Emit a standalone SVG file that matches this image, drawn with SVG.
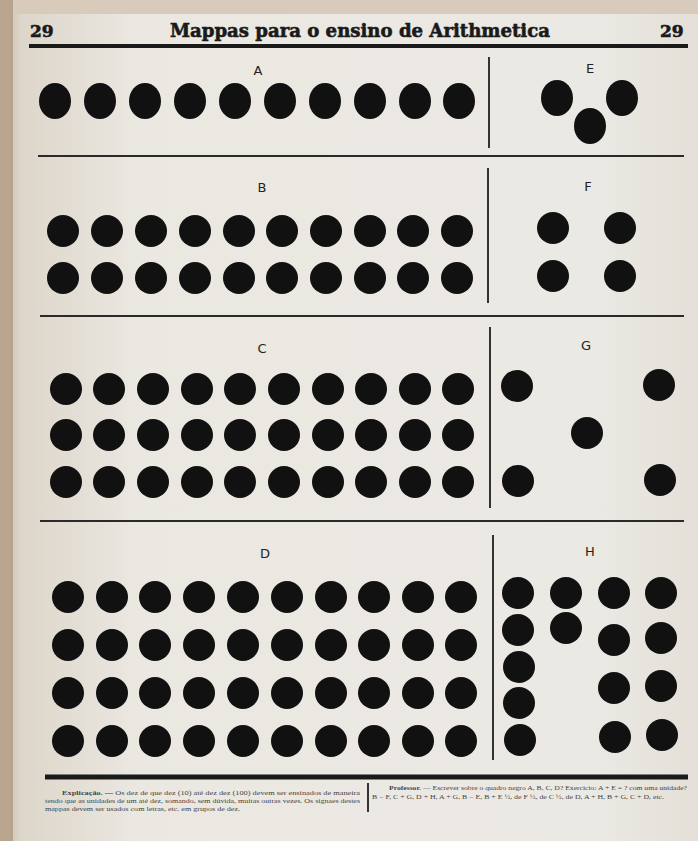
<svg xmlns="http://www.w3.org/2000/svg" width="698" height="841" viewBox="0 0 698 841">
<style>
.dot{fill:#111;}
.lbl{font-family:"DejaVu Sans","Liberation Sans",sans-serif;font-size:13px;fill:#222;text-anchor:middle;}
.rule{stroke:#2a2a2a;stroke-width:2;fill:none;}
.vrule{stroke:#333;stroke-width:2;fill:none;}
.hdr{font-family:"DejaVu Serif","Liberation Serif",serif;font-weight:bold;fill:#1a1a1a;stroke:#1a1a1a;stroke-width:0.6;}
.foot{font-family:"Liberation Serif",serif;font-size:6px;fill:#444;}
</style>
<defs>
<linearGradient id="pg" x1="0" y1="0" x2="1" y2="0">
<stop offset="0" stop-color="#c8b8a2"/>
<stop offset="0.03" stop-color="#ddd6ca"/>
<stop offset="0.2" stop-color="#ebe8e2"/>
<stop offset="0.85" stop-color="#ebe9e4"/>
<stop offset="1" stop-color="#e4e0d8"/>
</linearGradient>
<ellipse id="c" class="dot" rx="16" ry="16"/>
<ellipse id="ca" class="dot" rx="16" ry="18"/>
</defs>
<rect x="0" y="0" width="698" height="841" fill="url(#pg)"/>
<rect x="0" y="0" width="698" height="14" fill="#d8cbbb"/>
<rect x="0" y="0" width="11" height="841" fill="#b9a58d"/>
<rect x="11" y="0" width="2" height="841" fill="#8f7d68" opacity="0.5"/>

<g id="header">
<text class="hdr" x="30" y="37" font-size="17">29</text>
<text class="hdr" x="660" y="37" font-size="17">29</text>
<text class="hdr" x="360" y="37" font-size="19" text-anchor="middle" textLength="380" lengthAdjust="spacingAndGlyphs">Mappas para o ensino de Arithmetica</text>
<line x1="29" y1="46" x2="688" y2="46" stroke="#1a1a1a" stroke-width="4"/>
</g>

<g id="rules">
<line class="rule" x1="38" y1="156" x2="684" y2="156"/>
<line class="rule" x1="40" y1="316" x2="684" y2="316"/>
<line class="rule" x1="40" y1="521" x2="684" y2="521"/>
<line x1="45" y1="777" x2="688" y2="777" stroke="#1a1a1a" stroke-width="5"/>
<line class="vrule" x1="489" y1="57" x2="489" y2="148"/>
<line class="vrule" x1="488" y1="168" x2="488" y2="303"/>
<line class="vrule" x1="490" y1="327" x2="490" y2="508"/>
<line class="vrule" x1="493" y1="535" x2="493" y2="760"/>
</g>

<g id="panel-A">
<text class="lbl" x="258" y="75">A</text>
<use href="#ca" x="55" y="101"/><use href="#ca" x="100" y="101"/><use href="#ca" x="145" y="101"/><use href="#ca" x="190" y="101"/><use href="#ca" x="235" y="101"/><use href="#ca" x="280" y="101"/><use href="#ca" x="325" y="101"/><use href="#ca" x="370" y="101"/><use href="#ca" x="415" y="101"/><use href="#ca" x="459" y="101"/>
</g>
<g id="panel-E">
<text class="lbl" x="590" y="73">E</text>
<use href="#ca" x="557" y="98"/><use href="#ca" x="622" y="98"/><use href="#ca" x="590" y="126"/>
</g>

<g id="panel-B">
<text class="lbl" x="262" y="192">B</text>
<use href="#c" x="63" y="231"/><use href="#c" x="107" y="231"/><use href="#c" x="151" y="231"/><use href="#c" x="195" y="231"/><use href="#c" x="239" y="231"/><use href="#c" x="282" y="231"/><use href="#c" x="326" y="231"/><use href="#c" x="370" y="231"/><use href="#c" x="413" y="231"/><use href="#c" x="457" y="231"/>
<use href="#c" x="63" y="278"/><use href="#c" x="107" y="278"/><use href="#c" x="151" y="278"/><use href="#c" x="195" y="278"/><use href="#c" x="239" y="278"/><use href="#c" x="282" y="278"/><use href="#c" x="326" y="278"/><use href="#c" x="370" y="278"/><use href="#c" x="413" y="278"/><use href="#c" x="457" y="278"/>
</g>
<g id="panel-F">
<text class="lbl" x="588" y="191">F</text>
<use href="#c" x="553" y="228"/><use href="#c" x="620" y="228"/><use href="#c" x="553" y="276"/><use href="#c" x="620" y="276"/>
</g>

<g id="panel-C">
<text class="lbl" x="262" y="353">C</text>
<use href="#c" x="66" y="389"/><use href="#c" x="109" y="389"/><use href="#c" x="153" y="389"/><use href="#c" x="197" y="389"/><use href="#c" x="240" y="389"/><use href="#c" x="284" y="389"/><use href="#c" x="328" y="389"/><use href="#c" x="371" y="389"/><use href="#c" x="415" y="389"/><use href="#c" x="458" y="389"/>
<use href="#c" x="66" y="435"/><use href="#c" x="109" y="435"/><use href="#c" x="153" y="435"/><use href="#c" x="197" y="435"/><use href="#c" x="240" y="435"/><use href="#c" x="284" y="435"/><use href="#c" x="328" y="435"/><use href="#c" x="371" y="435"/><use href="#c" x="415" y="435"/><use href="#c" x="458" y="435"/>
<use href="#c" x="66" y="482"/><use href="#c" x="109" y="482"/><use href="#c" x="153" y="482"/><use href="#c" x="197" y="482"/><use href="#c" x="240" y="482"/><use href="#c" x="284" y="482"/><use href="#c" x="328" y="482"/><use href="#c" x="371" y="482"/><use href="#c" x="415" y="482"/><use href="#c" x="458" y="482"/>
</g>
<g id="panel-G">
<text class="lbl" x="586" y="350">G</text>
<use href="#c" x="517" y="386"/><use href="#c" x="659" y="385"/><use href="#c" x="587" y="433"/><use href="#c" x="518" y="481"/><use href="#c" x="660" y="480"/>
</g>

<g id="panel-D">
<text class="lbl" x="265" y="558">D</text>
<use href="#c" x="68" y="597"/><use href="#c" x="112" y="597"/><use href="#c" x="155" y="597"/><use href="#c" x="199" y="597"/><use href="#c" x="243" y="597"/><use href="#c" x="287" y="597"/><use href="#c" x="331" y="597"/><use href="#c" x="374" y="597"/><use href="#c" x="418" y="597"/><use href="#c" x="461" y="597"/>
<use href="#c" x="68" y="645"/><use href="#c" x="112" y="645"/><use href="#c" x="155" y="645"/><use href="#c" x="199" y="645"/><use href="#c" x="243" y="645"/><use href="#c" x="287" y="645"/><use href="#c" x="331" y="645"/><use href="#c" x="374" y="645"/><use href="#c" x="418" y="645"/><use href="#c" x="461" y="645"/>
<use href="#c" x="68" y="693"/><use href="#c" x="112" y="693"/><use href="#c" x="155" y="693"/><use href="#c" x="199" y="693"/><use href="#c" x="243" y="693"/><use href="#c" x="287" y="693"/><use href="#c" x="331" y="693"/><use href="#c" x="374" y="693"/><use href="#c" x="418" y="693"/><use href="#c" x="461" y="693"/>
<use href="#c" x="68" y="741"/><use href="#c" x="112" y="741"/><use href="#c" x="155" y="741"/><use href="#c" x="199" y="741"/><use href="#c" x="243" y="741"/><use href="#c" x="287" y="741"/><use href="#c" x="331" y="741"/><use href="#c" x="374" y="741"/><use href="#c" x="418" y="741"/><use href="#c" x="461" y="741"/>
</g>
<g id="panel-H">
<text class="lbl" x="590" y="556">H</text>
<use href="#c" x="518" y="593"/><use href="#c" x="518" y="630"/><use href="#c" x="519" y="667"/><use href="#c" x="519" y="703"/><use href="#c" x="520" y="740"/>
<use href="#c" x="566" y="593"/><use href="#c" x="566" y="628"/>
<use href="#c" x="614" y="593"/><use href="#c" x="614" y="640"/><use href="#c" x="614" y="688"/><use href="#c" x="615" y="737"/>
<use href="#c" x="661" y="593"/><use href="#c" x="661" y="638"/><use href="#c" x="661" y="686"/><use href="#c" x="662" y="735"/>
</g>

<g id="footer">
<line x1="368" y1="783" x2="368" y2="812" stroke="#333" stroke-width="2"/>
<text class="foot" x="62" y="795" textLength="298" lengthAdjust="spacingAndGlyphs"><tspan font-weight="bold">Explicação.</tspan> — Os dez de que dez (10) até dez dez (100) devem ser ensinados de maneira</text>
<text class="foot" x="45" y="803" textLength="315" lengthAdjust="spacingAndGlyphs">tendo que as unidades de um até dez, somando, sem dúvida, muitas outras vezes. Os signaes destes</text>
<text class="foot" x="45" y="811" textLength="195" lengthAdjust="spacingAndGlyphs">mappas devem ser usados com letras, etc. em grupos de dez.</text>
<text class="foot" x="389" y="790" textLength="298" lengthAdjust="spacingAndGlyphs"><tspan font-weight="bold">Professor.</tspan> — Escrever sobre o quadro negro A, B, C, D? Exercicio: A + E = ? com uma unidade?</text>
<text class="foot" x="372" y="799" textLength="292" lengthAdjust="spacingAndGlyphs">B − F, C + G, D + H, A + G, B − E, B + E ½, de F ½, de C ½, de D, A + H, B + G, C + D, etc.</text>
</g>
</svg>
